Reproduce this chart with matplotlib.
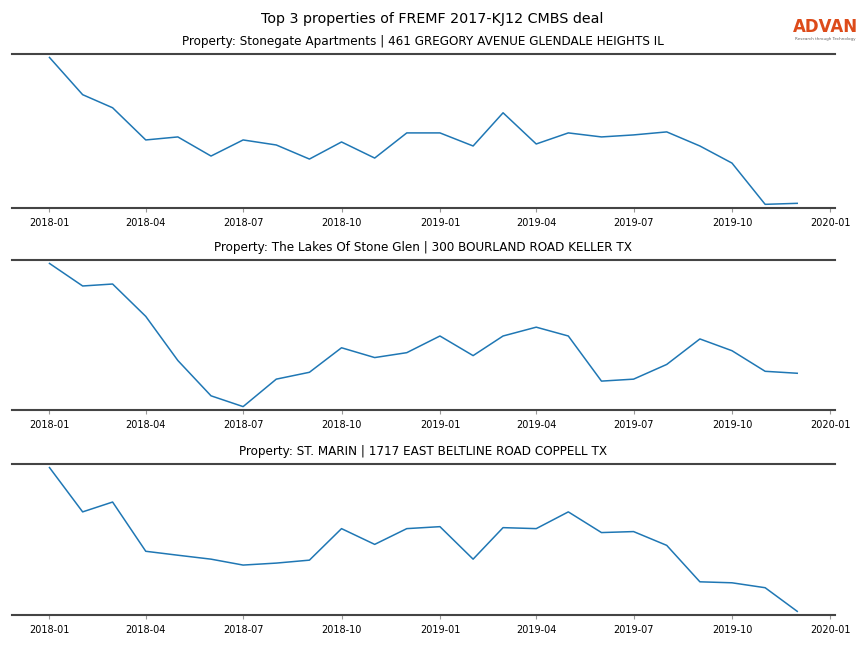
import matplotlib
matplotlib.use("Agg")
import matplotlib.pyplot as plt
import matplotlib.dates as mdates
import numpy as np
import pandas as pd

months = pd.date_range("2018-01-01", "2019-12-01", freq="MS")

titles = [
    "Property: Stonegate Apartments | 461 GREGORY AVENUE GLENDALE HEIGHTS IL",
    "Property: The Lakes Of Stone Glen | 300 BOURLAND ROAD KELLER TX",
    "Property: ST. MARIN | 1717 EAST BELTLINE ROAD COPPELL TX",
]

stonegate = [149, 112, 99, 67, 70, 51, 67, 62, 48, 65, 49, 74,
             74, 61, 94, 63, 74, 70, 72, 75, 61, 44, 3, 4]
lakes = [147, 124, 126, 93, 48, 12, 1, 29, 36, 61, 51, 56,
         73, 53, 73, 82, 73, 27, 29, 44, 70, 58, 37, 35]
st_marin = [148, 103, 113, 63, 59, 55, 49, 51, 54, 86, 70, 86,
            88, 55, 87, 86, 103, 82, 83, 69, 32, 31, 26, 2]

series = [stonegate, lakes, st_marin]

fig = plt.figure(figsize=(8.64, 6.48), dpi=100)
boxes = [(0.679, 0.917), (0.367, 0.599), (0.051, 0.284)]

for (b, t), title, vals in zip(boxes, titles, series):
    ax = fig.add_axes([0.014, b, 0.952, t - b])
    ax.plot(months, vals, color="#1f77b4", linewidth=1.1)
    ax.margins(y=0.025)
    ax.set_title(title, fontsize=8.65, pad=6.5)
    for s in ["left", "right"]:
        ax.spines[s].set_visible(False)
    for s in ["top", "bottom"]:
        ax.spines[s].set_color("#444444")
        ax.spines[s].set_linewidth(1.5)
    ax.set_yticks([])
    ax.xaxis.set_major_locator(mdates.MonthLocator(bymonth=[1, 4, 7, 10]))
    ax.xaxis.set_major_formatter(mdates.DateFormatter("%Y-%m"))
    ax.tick_params(axis="x", labelsize=7, length=3, color="#999999", pad=4)

fig.text(0.5, 0.97, "Top 3 properties of FREMF 2017-KJ12 CMBS deal",
         ha="center", va="center", fontsize=10.3)
fig.text(0.955, 0.958, "ADVAN", ha="center", va="center", fontsize=12,
         fontweight="semibold", color="#dd4b1a")
fig.text(0.955, 0.94, "Research through Technology", ha="center",
         va="center", fontsize=3, color="#666666")

fig.savefig("out.png", dpi=100)
